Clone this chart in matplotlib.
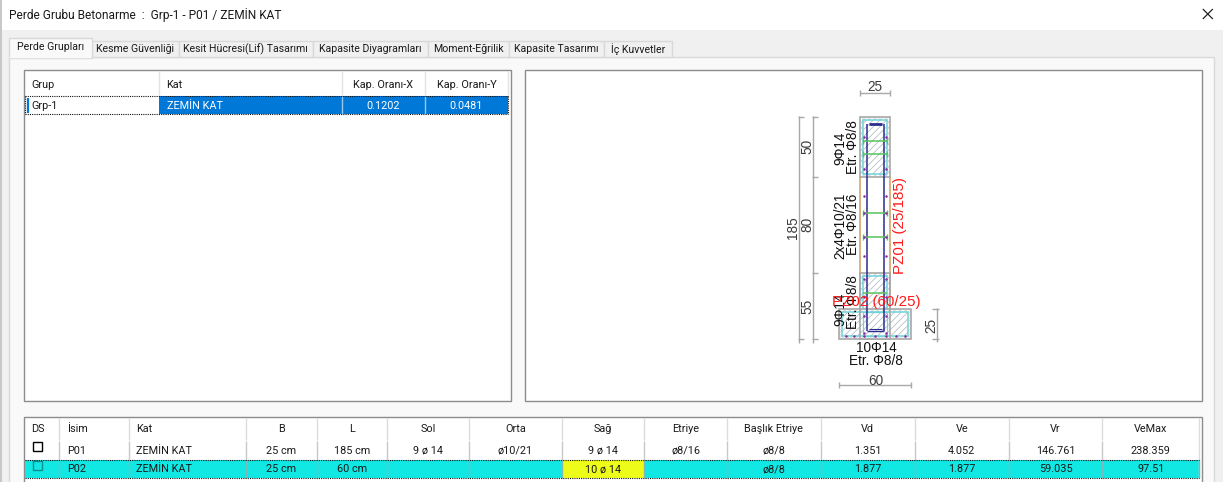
import matplotlib
matplotlib.use("Agg")
import matplotlib.pyplot as plt
from matplotlib.patches import Rectangle

plt.rcParams['font.family'] = ['Roboto', 'DejaVu Sans']
plt.rcParams['hatch.linewidth'] = 0.5

TITLE = "Perde Grubu Betonarme  :  Grp-1 - P01 / ZEMİN KAT"
tab_labels = ["Perde Grupları", "Kesme Güvenliği", "Kesit Hücresi(Lif) Tasarımı",
              "Kapasite Diyagramları", "Moment-Eğrilik", "Kapasite Tasarımı", "İç Kuvvetler"]
tab_edges = [9.5, 92.5, 179.5, 313.5, 428.5, 509.5, 604.5, 672.5]

group_headers = ["Grup", "Kat", "Kap. Oranı-X", "Kap. Oranı-Y"]
group_edges = [25, 160, 343, 425.5, 509]
group_row = ["Grp-1", "ZEMİN KAT", "0.1202", "0.0481"]

member_headers = ["DS", "İsim", "Kat", "B", "L", "Sol", "Orta", "Sağ", "Etriye",
                  "Başlık Etriye", "Vd", "Ve", "Vr", "VeMax"]
member_edges = [25, 60, 130, 247, 317.5, 387.5, 469.5, 563, 645, 727.5, 821.5, 915.5, 1009.5, 1103, 1200]
member_p01 = ["", "P01", "ZEMİN KAT", "25 cm", "185 cm", "9 ø 14", "ø10/21", "9 ø 14", "ø8/16",
              "ø8/8", "1.351", "4.052", "146.761", "238.359"]
member_p02 = ["", "P02", "ZEMİN KAT", "25 cm", "60 cm", "", "", "10 ø 14", "", "ø8/8",
              "1.877", "1.877", "59.035", "97.51"]

# section geometry, cm
wall_width = 25
wall_zones = [50, 80, 55]
flange_width = 60
flange_depth = 25
PX = 1.2035
X0, Y0 = 860.8, 117.0

UI = 7.8
TAB = 7.6
CAD = 9.8
CADF = 'Liberation Sans'
TXT = "#1a1a1a"

fig = plt.figure(figsize=(12.23, 4.82), dpi=100, facecolor="#f0f0f0")
ax = fig.add_axes([0, 0, 1, 1])
ax.set_xlim(0.7, 1223.7)
ax.set_ylim(482.5, 0.5)
ax.axis("off")


def rect(x0, y0, x1, y1, fc="none", ec="none", lw=1.0, **kw):
    ax.add_patch(Rectangle((x0, y0), x1 - x0, y1 - y0, facecolor=fc, edgecolor=ec, linewidth=lw, **kw))


def line(xs, ys, c="#a0a0a0", lw=1.0, **kw):
    ax.plot(xs, ys, color=c, lw=lw, solid_capstyle="butt", **kw)


def t(x, y, s, size=UI, c=TXT, ha="center", rot=0, fam=None):
    ax.text(x, y, s, fontsize=size, color=c, ha=ha, va="center", rotation=rot,
            rotation_mode="anchor", family=fam or ['Roboto', 'DejaVu Sans'])


def cad(x, y, s, size=CAD, c="#111111", rot=0):
    t(x, y, s, size=size, c=c, rot=rot, fam=[CADF, 'DejaVu Sans'])


# window
rect(0, 0, 1224, 30.5, fc="white")
rect(0, 0, 2.5, 483, fc="#c8c8c8")
t(10, 16, TITLE, size=8.6, ha="left")
line([1203.5, 1213.5], [9.5, 19.5], c="#222222", lw=0.9)
line([1203.5, 1213.5], [19.5, 9.5], c="#222222", lw=0.9)

# tab panel
rect(9.5, 57.5, 1214.5, 490, fc="#f9f9f9", ec="#d9d9d9")
for i, label in enumerate(tab_labels):
    a, b = tab_edges[i], tab_edges[i + 1]
    if i == 0:
        rect(a, 38, b, 58, fc="#f9f9f9", ec="#d9d9d9", zorder=3)
        line([a + .6, b - .6], [57.8, 57.8], c="#f9f9f9", zorder=4)
        ax.text((a + b) / 2, 47.5, label, fontsize=TAB, color=TXT, ha="center", va="center", zorder=5)
    else:
        rect(a, 41, b, 57.5, fc="#f0f0f0", ec="#d9d9d9")
        t((a + b) / 2, 49.5, label, size=TAB)

# group table
rect(24.5, 70.5, 511.5, 401.5, fc="white", ec="#8c8c8c")
for x in group_edges[1:]:
    line([x, x], [71, 95], c="#e2e2e2")
t(32, 85, group_headers[0], ha="left")
t(167, 85, group_headers[1], ha="left")
t((group_edges[2] + group_edges[3]) / 2, 85, group_headers[2])
t((group_edges[3] + group_edges[4]) / 2, 85, group_headers[3])
rect(group_edges[1], 96.5, group_edges[4], 114, fc="#0078d7")
for x in group_edges[2:4]:
    line([x, x], [96.5, 114], c="#9fc7ea")
line([group_edges[0] + 1, group_edges[4]], [96.5, 96.5], c="#111111", lw=0.8, ls=(0, (1, 1)))
line([group_edges[0] + 1, group_edges[4]], [114, 114], c="#111111", lw=0.8, ls=(0, (1, 1)))
line([26, 26], [96.5, 114], c="#111111", lw=0.8, ls=(0, (1, 1)))
line([509, 509], [96.5, 114], c="#111111", lw=0.8, ls=(0, (1, 1)))
line([29, 29], [98, 113], c="#0078d7", lw=1.6)
t(32, 106.5, group_row[0], ha="left")
t(167.5, 106.5, group_row[1], c="white", ha="left")
t((group_edges[2] + group_edges[3]) / 2, 106.5, group_row[2], c="white")
t((group_edges[3] + group_edges[4]) / 2, 106.5, group_row[3], c="white")

# drawing frame
rect(525.5, 70.5, 1202.5, 401.5, fc="white", ec="#8c8c8c")


# section drawing
def X(cm):
    return X0 + cm * PX


def Y(cm):
    return Y0 + cm * PX


HATCH = "#a9b4bc"
SPECK = "#d2d2d2"
GREY = "#a8a8a8"
CYAN = "#6fd3da"
total = sum(wall_zones)
z1 = wall_zones[0]
z2 = z1 + wall_zones[1]


def zone(x0, y0, x1, y1):
    rect(x0, y0, x1, y1, fc="white", ec=SPECK, hatch="xxxxxx", lw=0)
    rect(x0, y0, x1, y1, ec=GREY, lw=1.2)
    rect(x0 + 3, y0 + 3, x1 - 3, y1 - 3, fc="white", ec=HATCH, hatch="/////", lw=0)
    rect(x0 + 3, y0 + 3, x1 - 3, y1 - 3, ec=CYAN, lw=1.1)


line([X(0), X(0)], [Y(z1), Y(z2)], c="#cf9c62", lw=1.1)
line([X(wall_width), X(wall_width)], [Y(z1), Y(z2)], c="#cf9c62", lw=1.1)
zone(X(0), Y(0), X(wall_width), Y(z1))
fl_left = X(wall_width / 2 - flange_width / 2)
fl_right = X(wall_width / 2 + flange_width / 2)
zone(X(0), Y(z2), X(wall_width), Y(total))
zone(fl_left, Y(total - flange_depth), fl_right, Y(total))
line([X(0), X(0)], [Y(z2), Y(total)], c=GREY, lw=1.2)
line([X(wall_width), X(wall_width)], [Y(z2), Y(total)], c=GREY, lw=1.2)
rect(X(0) + 3, Y(total - flange_depth) + 3, X(wall_width) - 3, Y(total) - 3, ec=CYAN, lw=0.9)

# core outline
bar = "#2b2b8f"
line([X(0) + 7, X(0) + 7], [Y(0) + 7.5, Y(total) - 8], c=bar, lw=1.1)
line([X(wall_width) - 6, X(wall_width) - 6], [Y(0) + 7.5, Y(total) - 8], c=bar, lw=1.1)
line([X(0) + 9, X(wall_width) - 8], [Y(0) + 7.5, Y(0) + 7.5], c=bar, lw=2.0)
line([X(0) + 7, X(wall_width) - 6], [Y(total) - 8, Y(total) - 8], c=bar, lw=1.0)
line([X(0) + 9, X(wall_width) - 8], [Y(total) - 10, Y(total) - 10], c=bar, lw=0.8)

# ties (cm from top)
tie_levels = [20, 31, 80, 100, 147]
for lev in tie_levels:
    line([X(0) + 3, X(wall_width) - 3], [Y(lev), Y(lev)], c="#58c45c", lw=1.1)
    if lev != 147:
        line([X(0) + 3, X(0) + 3], [Y(lev) - 3, Y(lev) + 3], c="#58c45c", lw=1.0)
        line([X(wall_width) - 3, X(wall_width) - 3], [Y(lev) - 3, Y(lev) + 3], c="#58c45c", lw=1.0)

# longitudinal bars
bar_cm_w = [3.5, 21.5]
bar_cm_y = [17, 44, 66, 80, 100, 116, 135, 150, 166, 180]
for by in bar_cm_y:
    for bx in bar_cm_w:
        ax.plot(X(bx), Y(by), ".", color="#8a2aa0", ms=1.6)
for bx in [-12, -5, 3.5, 12, 21.5, 30, 37]:
    ax.plot(X(bx), Y(total - 3), ".", color="#8a2aa0", ms=1.6)


# dimensions
def dim_h(x0, x1, y):
    line([x0, x1], [y, y], c=GREY)
    for x in (x0, x1):
        line([x, x], [y - 3, y + 3], c=GREY)


def dim_v(x, ys):
    line([x, x], [ys[0] - 1, ys[-1] + 4], c=GREY)
    for y in ys:
        line([x - 1, x + 5], [y, y], c=GREY)


DIM = "#3c3c3c"
DS = 9.8
dim_h(X(0), X(wall_width), 93.5)
cad(875.5, 87.5, str(wall_width), size=DS, c=DIM)
dim_v(799.5, [Y(0), Y(total)])
dim_v(813.5, [Y(0), Y(z1), Y(z2), Y(total)])
cad(793.5, Y(total / 2), str(total), size=DS, c=DIM, rot=90)
cad(808, Y(z1 / 2), str(wall_zones[0]), size=DS, c=DIM, rot=90)
cad(808, Y((z1 + z2) / 2), str(wall_zones[1]), size=DS, c=DIM, rot=90)
cad(808, Y((z2 + total) / 2), str(wall_zones[2]), size=DS, c=DIM, rot=90)
dim_h(fl_left, fl_right, 385.5)
cad(877, 381.5, str(flange_width), size=DS, c=DIM)
line([937.5, 937.5], [Y(total - flange_depth) - 1, Y(total) + 3], c=GREY)
for y in (Y(total - flange_depth), Y(total)):
    line([933, 940], [y, y], c=GREY)
cad(932, 325.5, str(flange_depth), size=DS, c=DIM, rot=90)

# reinforcement labels
cad(841, 148.5, "9Φ14", rot=90)
cad(854, 147.5, "Etr. Φ8/8", rot=90)
cad(841, 226.5, "2x4Φ10/21", rot=90)
cad(854, 225, "Etr. Φ8/16", rot=90)
cad(841, 310, "9Φ14", rot=90)
cad(854, 303, "Etr. Φ8/8", rot=90)
cad(877, 348.5, "10Φ14")
cad(876.5, 361.5, "Etr. Φ8/8")
cad(901, 226, "PZ01 (25/185)", size=10.9, c="#ff1a1a", rot=90)
cad(877, 302.5, "PZ02 (60/25)", size=10.9, c="#ff1a1a")

# member table
rect(24.5, 417.5, 1202.5, 490, fc="white", ec="#8c8c8c")
left_cols = {0: 32, 1: 68, 2: 137}
for i, head in enumerate(member_headers):
    a, b = member_edges[i], member_edges[i + 1]
    if i in left_cols:
        t(left_cols[i], 430, head, ha="left")
    else:
        t((a + b) / 2, 430, head)
    if i:
        line([a, a], [418, 440], c="#dcdcdc")
        line([a, a], [441, 460], c="#c8c8c8")
line([1200, 1200], [418, 478], c="#dcdcdc")

rect(26, 460.5, 1200, 478, fc="#11e8e4")
rect(member_edges[7], 460.5, member_edges[8], 478, fc="#eefc1a")
for x in member_edges[1:]:
    line([x, x], [460.5, 478], c="#7fb8b8")
line([26, 1200], [460.5, 460.5], c="#111111", lw=0.8, ls=(0, (1, 1)))
line([26, 1200], [478, 478], c="#111111", lw=0.8, ls=(0, (1, 1)))

for row, y in ((member_p01, 451.5), (member_p02, 470)):
    for i, value in enumerate(row):
        if not value:
            continue
        a, b = member_edges[i], member_edges[i + 1]
        if i in left_cols:
            t(left_cols[i], y, value, ha="left")
        else:
            t((a + b) / 2, y, value)
rect(33.5, 442.5, 42.5, 451.5, fc="white", ec="black", lw=1.0)
rect(33.5, 461.5, 42.5, 470.5, fc="none", ec="#0b8f8f", lw=1.0)

fig.savefig("out.png", dpi=100, facecolor=fig.get_facecolor())
